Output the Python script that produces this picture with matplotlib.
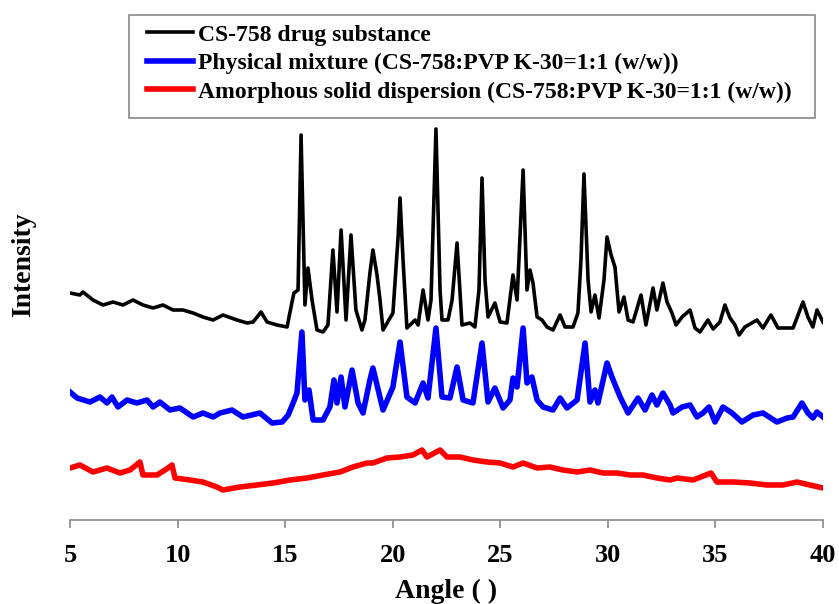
import matplotlib
matplotlib.use("Agg")
import matplotlib.pyplot as plt
from matplotlib.patches import Rectangle

plt.rcParams['font.family'] = ['Liberation Serif', 'DejaVu Serif']
plt.rcParams['font.weight'] = 'bold'

# CS-758 drug substance (angle 2-theta, intensity in arbitrary units)
drug_angle = [5.00, 5.46, 5.60, 6.07, 6.53, 7.00, 7.46, 7.93, 8.39, 8.86, 9.32, 9.79,
              10.25, 10.72, 11.18, 11.65, 12.11, 12.76, 13.23, 13.51, 13.88, 14.16, 14.62,
              15.09, 15.32, 15.41, 15.60, 15.74, 15.92, 16.06, 16.25, 16.48, 16.76, 16.99,
              17.22, 17.41, 17.60, 17.83, 18.06, 18.29, 18.57, 18.71, 18.94, 19.08, 19.27,
              19.41, 19.55, 20.01, 20.25, 20.34, 20.48, 20.66, 21.04, 21.18, 21.41, 21.64,
              21.78, 22.01, 22.20, 22.29, 22.57, 22.76, 22.99, 23.22, 23.59, 23.82, 24.01,
              24.15, 24.29, 24.43, 24.75, 24.99, 25.31, 25.59, 25.78, 26.06, 26.24, 26.38,
              26.52, 26.71, 26.94, 27.17, 27.45, 27.78, 28.01, 28.38, 28.61, 28.75, 28.89,
              29.08, 29.22, 29.40, 29.59, 29.82, 29.96, 30.15, 30.33, 30.52, 30.75, 30.94,
              31.17, 31.54, 31.77, 32.10, 32.28, 32.56, 32.75, 32.98, 33.17, 33.45, 33.82,
              34.05, 34.28, 34.65, 34.89, 35.21, 35.44, 35.68, 35.91, 36.10, 36.37, 36.93,
              37.21, 37.58, 37.91, 38.33, 38.61, 39.07, 39.30, 39.53, 39.72, 40.00]
drug_int = [227, 225, 228, 220, 215, 218, 215, 220, 215, 212, 215, 210,
            210, 207, 203, 200, 205, 200, 197, 198, 208, 198, 195,
            193, 218, 227, 230, 385, 215, 252, 220, 190, 188, 195,
            270, 208, 290, 200, 285, 210, 190, 200, 247, 270, 245,
            220, 190, 207, 283, 322, 260, 192, 200, 195, 230, 200,
            220, 391, 230, 200, 200, 220, 277, 195, 197, 193, 230,
            342, 240, 203, 217, 198, 197, 245, 220, 350, 230, 250,
            237, 203, 200, 193, 190, 205, 193, 193, 207, 260, 346,
            240, 208, 225, 202, 240, 283, 265, 253, 208, 223, 200,
            198, 225, 195, 232, 210, 237, 218, 207, 195, 203, 210,
            192, 188, 200, 191, 198, 215, 202, 195, 185, 193, 200,
            192, 205, 192, 192, 192, 218, 203, 193, 210, 198]

# Physical mixture
mix_angle = [5.00, 5.33, 5.93, 6.39, 6.72, 6.95, 7.23, 7.65, 8.11, 8.58, 8.86, 9.18,
             9.65, 10.11, 10.72, 11.18, 11.65, 11.97, 12.53, 13.04, 13.83, 14.39, 14.86,
             15.14, 15.37, 15.55, 15.78, 15.92, 16.11, 16.30, 16.76, 17.08, 17.27, 17.41,
             17.60, 17.78, 18.11, 18.39, 18.62, 18.94, 19.08, 19.55, 20.01, 20.34, 20.66,
             21.04, 21.41, 21.64, 22.01, 22.29, 22.66, 22.99, 23.27, 23.73, 24.15, 24.43,
             24.75, 25.13, 25.45, 25.59, 25.78, 26.06, 26.24, 26.47, 26.71, 26.99, 27.45,
             27.78, 28.10, 28.57, 28.94, 29.17, 29.40, 29.54, 29.96, 30.19, 30.57, 30.94,
             31.40, 31.73, 32.05, 32.28, 32.56, 32.89, 33.03, 33.45, 33.82, 34.14, 34.42,
             34.70, 34.98, 35.35, 35.77, 36.23, 36.75, 37.21, 37.86, 38.33, 38.61, 39.02,
             39.30, 39.53, 39.72, 40.00]
mix_int = [128, 122, 118, 123, 117, 123, 113, 120, 117, 120, 113, 118,
           110, 112, 103, 107, 103, 107, 110, 103, 107, 97, 98,
           105, 117, 127, 188, 120, 130, 100, 100, 113, 140, 117,
           143, 113, 150, 117, 107, 140, 152, 110, 133, 178, 123,
           117, 137, 122, 192, 123, 122, 153, 120, 117, 177, 118,
           132, 112, 120, 142, 133, 192, 137, 143, 120, 113, 110,
           122, 112, 120, 177, 118, 130, 117, 157, 143, 123, 107,
           122, 110, 125, 115, 127, 115, 107, 113, 115, 103, 107,
           113, 98, 113, 107, 98, 105, 107, 98, 102, 103, 117,
           107, 102, 108, 103]

# Amorphous solid dispersion
asd_angle = [5.00, 5.46, 6.07, 6.72, 7.32, 7.79, 8.25, 8.39, 9.04, 9.42, 9.74, 9.88,
             10.58, 11.18, 11.83, 12.11, 12.90, 13.69, 14.44, 15.23, 16.02, 16.76, 17.55,
             18.15, 18.80, 19.08, 19.73, 20.34, 20.94, 21.36, 21.59, 22.20, 22.52, 23.13,
             23.73, 24.38, 24.99, 25.59, 26.06, 26.71, 27.31, 27.91, 28.57, 29.17, 29.77,
             30.42, 31.03, 31.63, 32.28, 32.89, 33.21, 33.96, 34.79, 35.07, 35.82, 36.61,
             37.40, 38.14, 38.79, 39.39, 40.00]
asd_int = [52, 55, 48, 52, 47, 50, 58, 45, 45, 50, 55, 42,
           40, 38, 33, 30, 33, 35, 37, 40, 42, 45, 48,
           53, 57, 57, 62, 63, 65, 70, 63, 70, 63, 63,
           60, 58, 57, 53, 57, 52, 53, 50, 48, 50, 47,
           47, 45, 45, 42, 40, 42, 40, 47, 38, 38, 37,
           35, 35, 38, 35, 32]

labels = ['CS-758 drug substance',
          'Physical mixture (CS-758:PVP K-30=1:1 (w/w))',
          'Amorphous solid dispersion (CS-758:PVP K-30=1:1 (w/w))']

W, H = 839, 604
fig = plt.figure(figsize=(W / 100, H / 100), dpi=100)
ax = fig.add_axes([70 / W, 84 / H, 753 / W, 410 / H])

l1, = ax.plot(drug_angle, drug_int, color='black', lw=2.6)
l2, = ax.plot(mix_angle, mix_int, color='#0000ff', lw=4)
l3, = ax.plot(asd_angle, asd_int, color='#ff0000', lw=4)

ax.set_xlim(5, 40)
ax.set_ylim(0, 410)
ax.set_xticks([5, 10, 15, 20, 25, 30, 35, 40])
ax.set_yticks([])
for s in ['top', 'right', 'left']:
    ax.spines[s].set_visible(False)
ax.spines['bottom'].set_color('#898989')
ax.spines['bottom'].set_linewidth(1.2)
ax.tick_params(axis='x', direction='out', length=6, width=1.2, color='#898989',
               labelsize=19, pad=11)
for t in ax.get_xticklabels():
    t.set_fontweight('bold')

ax.set_xlabel('Angle ( )', fontsize=20, fontweight='bold', labelpad=9)
fig.text(24 / W, 1 - 265 / H, 'Intensity', rotation=90, fontsize=20,
         fontweight='bold', ha='center', va='center')

# legend box drawn separately so the padding matches the original
box = Rectangle((129 / W, 1 - 118 / H), 686 / W, 103 / H,
                transform=fig.transFigure, facecolor='white',
                edgecolor='#898989', lw=1.2, zorder=3)
fig.patches.append(box)
leg = fig.legend([l1, l2, l3], labels, loc='upper left',
                 bbox_to_anchor=(147 / W, 1 - 24 / H),
                 bbox_transform=fig.transFigure, fontsize=17, frameon=False,
                 handlelength=1.95, handletextpad=0.2, labelspacing=0.3,
                 borderpad=0, borderaxespad=0)
leg.set_zorder(5)
for t in leg.get_texts():
    t.set_fontweight('bold')

fig.savefig('out.png', dpi=100)
